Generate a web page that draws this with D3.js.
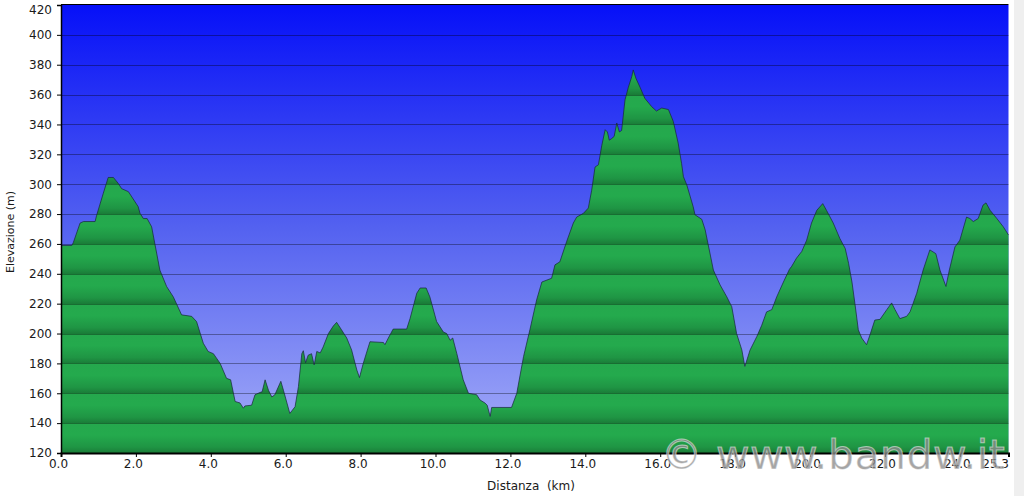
<!DOCTYPE html>
<html><head><meta charset="utf-8">
<script src="https://cdn.jsdelivr.net/npm/d3@7"></script>
<style>html,body{margin:0;padding:0;background:#fff;}svg{display:block;}</style>
</head><body>
<script>
const km = [0.00,0.29,0.33,0.51,0.60,0.91,0.95,1.13,1.26,1.40,1.53,1.62,1.80,2.06,2.11,2.20,2.30,2.42,2.64,2.82,3.00,3.22,3.49,3.62,3.80,3.93,4.07,4.25,4.42,4.53,4.65,4.78,4.87,4.91,5.09,5.18,5.31,5.37,5.45,5.54,5.63,5.71,5.87,5.94,6.11,6.25,6.34,6.43,6.47,6.53,6.60,6.69,6.76,6.83,6.92,7.00,7.14,7.27,7.36,7.49,7.63,7.76,7.90,7.97,8.07,8.25,8.61,8.65,8.74,8.87,9.23,9.32,9.50,9.59,9.75,9.85,10.03,10.21,10.30,10.39,10.46,10.57,10.74,10.88,11.10,11.19,11.32,11.38,11.46,11.50,12.03,12.17,12.35,12.52,12.70,12.84,13.10,13.19,13.32,13.50,13.68,13.77,13.95,14.08,14.17,14.26,14.35,14.44,14.53,14.59,14.64,14.70,14.77,14.84,14.91,14.97,15.06,15.15,15.24,15.28,15.35,15.46,15.59,15.77,15.90,16.04,16.22,16.35,16.48,16.57,16.62,16.71,16.88,16.93,17.11,17.20,17.42,17.60,17.78,17.91,18.04,18.18,18.26,18.40,18.58,18.71,18.84,18.98,19.11,19.29,19.45,19.51,19.64,19.78,19.91,20.04,20.18,20.34,20.44,20.62,20.80,20.94,21.03,21.12,21.20,21.29,21.38,21.51,21.60,21.73,21.87,22.05,22.18,22.27,22.40,22.58,22.67,22.85,23.02,23.20,23.36,23.47,23.63,23.72,23.87,24.00,24.18,24.27,24.36,24.49,24.62,24.70,24.81,24.99,25.16,25.30];
const elevation = [259,259,261,274,275,275,279,294,304.5,304.5,300.5,297,295,285,280.5,277,277,271.5,242.5,231.5,224.5,212.5,211.5,208,193.5,188,186.5,180,170,169,154.5,153.5,150,151.5,152,159,160.5,161,169,162,157.5,159,168,162,146.5,151,164.5,186.5,188.5,180.5,185.5,186.5,179,188,187,191,200,205,207.5,202.5,197,189,175.5,170.5,180,194.5,194,192.5,197,203,203,210,227,230.5,230.5,224.5,208,201,200,195.5,197,186.5,169,160,159,155.5,153.5,152,144.5,150.5,150.5,160,184.5,202.5,222.5,234.5,237,246,248,261.5,274,278,280.5,284,296,311.5,313,326,336.5,335,329.5,330.5,332,341,335,336,356.5,365,372,376.5,371,365,357.5,352,349,351,350,342,327.5,314,305,299.5,285,279.5,276.5,269.5,242.5,232.5,224.5,218,200,189,178,189,198,205.5,214.5,216,224.5,234.5,243,245,250.5,255,262.5,274,282.5,287,282.5,274,263.5,257,247,234.5,220,202.5,197,192.5,199,209,209.5,216,220.5,216,210,211.5,214.5,227,242.5,256,253.5,242.5,231.5,242.5,258,262.5,278,277,275,277,286,287.5,282.5,277,271.5,266];
const yTicks = [120,140,160,180,200,220,240,260,280,300,320,340,360,380,400,420];
const xTicks = [0,2,4,6,8,10,12,14,16,18,20,22,24,25.3];
const xTitle = "Distanza  (km)";
const yTitle = "Elevazione (m)";
const watermark = "© www.bandw.it";

const W = 1024, H = 496;
const L = 61, T = 5, R = 1008.5, B = 453;
const svg = d3.select("body").append("svg").attr("width", W).attr("height", H);

svg.append("rect").attr("x", 1014).attr("y", 0).attr("width", 10).attr("height", H).attr("fill", "#efefef");

const x = d3.scaleLinear().domain([0, 25.3]).range([L, R]);
const y = d3.scaleLinear().domain([120, 420]).range([B, T]);

const defs = svg.append("defs");
const bg = defs.append("linearGradient").attr("id", "bg").attr("x1", 0).attr("x2", 0).attr("y1", 0).attr("y2", 1);
bg.append("stop").attr("offset", 0).attr("stop-color", "#0610f8");
bg.append("stop").attr("offset", 0.5).attr("stop-color", "#5462f0");
bg.append("stop").attr("offset", 1).attr("stop-color", "#a6aef8");

const gr = defs.append("linearGradient").attr("id", "band").attr("gradientUnits", "userSpaceOnUse")
  .attr("spreadMethod", "repeat")
  .attr("x1", 0).attr("x2", 0).attr("y1", y(240)).attr("y2", y(220));
gr.append("stop").attr("offset", 0).attr("stop-color", "#25a84d");
gr.append("stop").attr("offset", 0.4).attr("stop-color", "#24aa4d");
gr.append("stop").attr("offset", 0.8).attr("stop-color", "#1f9544");
gr.append("stop").attr("offset", 1).attr("stop-color", "#1a7c38");

svg.append("rect").attr("x", L).attr("y", T).attr("width", R - L).attr("height", B - T).attr("fill", "url(#bg)");

const data = km.map((k, i) => ({k, e: elevation[i]}));
const area = d3.area().x(d => x(d.k)).y0(B).y1(d => y(d.e));
const line = d3.line().x(d => x(d.k)).y(d => y(d.e));

svg.append("path").datum(data).attr("d", area).attr("fill", "url(#band)");

svg.append("g").selectAll("line").data(yTicks.filter(v => v > 120 && v < 420)).join("line")
  .attr("x1", L).attr("x2", R).attr("y1", d => Math.round(y(d)) + 0.5).attr("y2", d => Math.round(y(d)) + 0.5)
  .attr("stroke", "#000").attr("stroke-opacity", 0.35).attr("stroke-width", 1);

svg.append("path").datum(data).attr("d", line).attr("fill", "none")
  .attr("stroke", "#17263a").attr("stroke-opacity", 0.7).attr("stroke-width", 1);

svg.append("line").attr("x1", L).attr("x2", R).attr("y1", T - 0.5).attr("y2", T - 0.5).attr("stroke", "#000").attr("stroke-width", 1);

const yAxis = svg.append("g").attr("transform", `translate(${L},0)`)
  .call(d3.axisLeft(y).tickValues(yTicks).tickFormat(d3.format("d")).tickSize(4).tickPadding(5));
const xAxis = svg.append("g").attr("transform", `translate(0,${B})`)
  .call(d3.axisBottom(x).tickValues(xTicks).tickFormat(d3.format(".1f")).tickSize(4).tickPadding(2));
[yAxis, xAxis].forEach(g => {
  g.select(".domain").attr("stroke", "#000").attr("stroke-width", 1.5);
  g.selectAll(".tick line").attr("stroke", "#000");
  g.selectAll("text").attr("font-family", "DejaVu Sans, Verdana, sans-serif").attr("font-size", 12).attr("fill", "#1a1a1a");
});
yAxis.selectAll(".tick text").filter(d => d === 420).attr("dy", "0.32em").attr("y", 5);
xAxis.select(".domain").attr("stroke-width", 2);
xAxis.selectAll(".tick text").attr("dx", -3);
xAxis.selectAll(".tick text").filter(d => d === 25.3).attr("text-anchor", "end").attr("dx", 0);

svg.append("text").attr("x", 531).attr("y", 490).attr("text-anchor", "middle")
  .style("white-space", "pre").attr("font-family", "DejaVu Sans, Verdana, sans-serif").attr("font-size", 12)
  .attr("fill", "#1a1a1a").text(xTitle);
svg.append("text").attr("transform", "translate(14,232) rotate(-90)").attr("text-anchor", "middle")
  .attr("font-family", "DejaVu Sans, Verdana, sans-serif").attr("font-size", 11)
  .attr("fill", "#1a1a1a").text(yTitle);

svg.append("text").attr("x", 661).attr("y", 469)
  .attr("font-family", "DejaVu Sans, sans-serif").attr("font-size", 41)
  .attr("letter-spacing", 0.5)
  .attr("fill", "#8c8c8c").attr("fill-opacity", 0.8)
  .attr("stroke", "#ffffff").attr("stroke-opacity", 0.5).attr("stroke-width", 1)
  .text(watermark);
</script>
</body></html>
